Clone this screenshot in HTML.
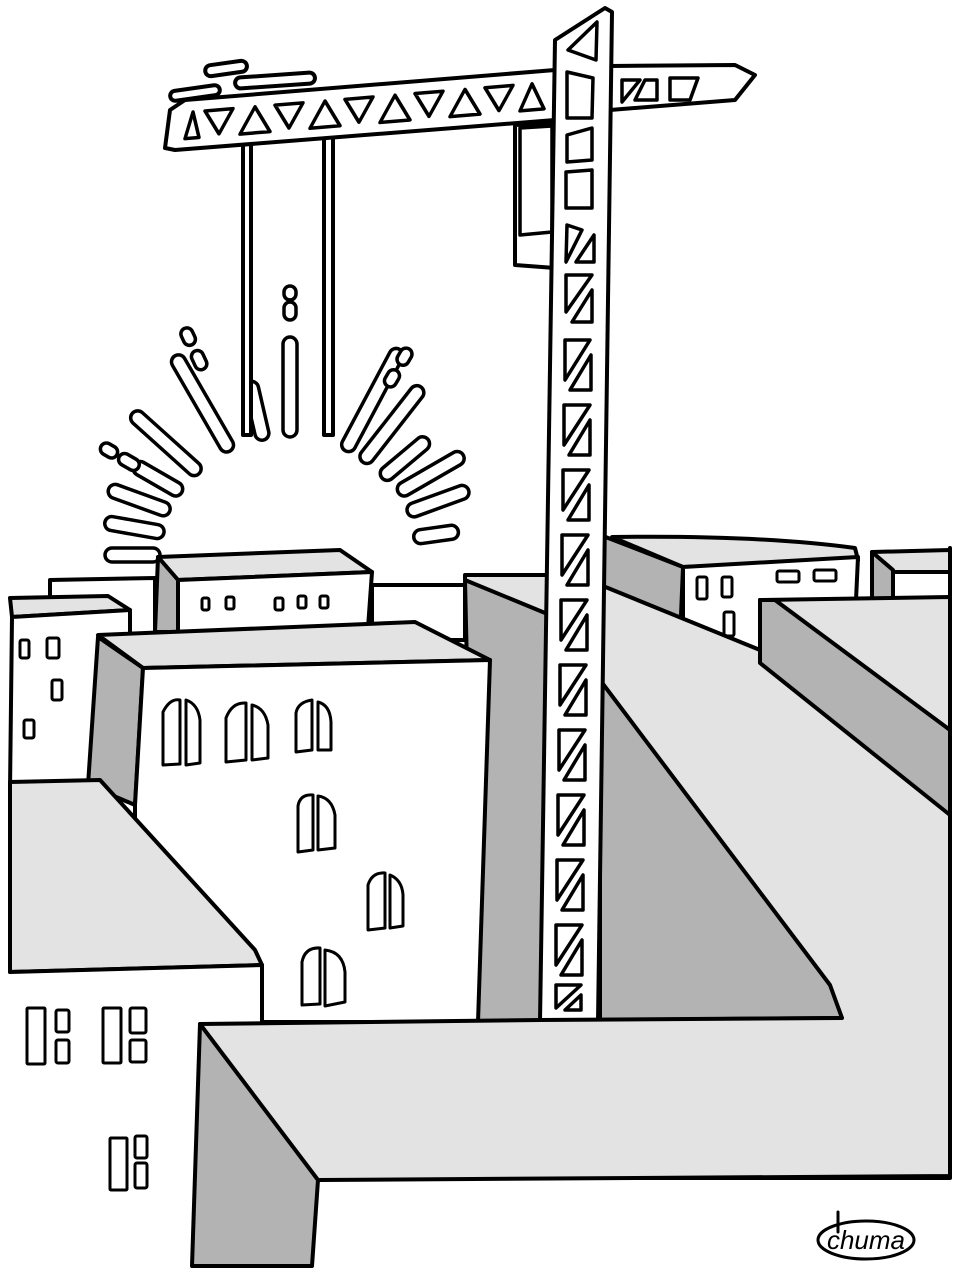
<!DOCTYPE html>
<html><head><meta charset="utf-8"><style>
html,body{margin:0;padding:0;background:#fff}
svg{display:block}
</style></head><body>
<svg width="968" height="1268" viewBox="0 0 968 1268" xmlns="http://www.w3.org/2000/svg">
<g stroke="#000" stroke-width="4" stroke-linejoin="round" stroke-linecap="round" fill="#fff">

<!-- Sun rays -->
<g fill="#fff" stroke-width="3.5">
  <g transform="translate(290,555)">
    <rect x="130" y="-7" width="55" height="14" rx="7" transform="rotate(180)"/>
    <rect x="128" y="-7" width="60" height="14" rx="7" transform="rotate(-170)"/>
    <rect x="128" y="-7" width="65" height="14" rx="7" transform="rotate(-160)"/>
    <rect x="125" y="-7" width="55" height="14" rx="7" transform="rotate(-150)"/>
    <rect x="122" y="-7" width="90" height="14" rx="7" transform="rotate(-138)"/>
    <rect x="120" y="-7" width="110" height="14" rx="7" transform="rotate(-120)"/>
    <rect x="118" y="-7" width="60" height="14" rx="7" transform="rotate(-103)"/>
    <rect x="118" y="-7" width="100" height="14" rx="7" transform="rotate(-90)"/>
    <rect x="118" y="-7" width="115" height="14" rx="7" transform="rotate(-62)"/>
    <rect x="118" y="-7" width="95" height="14" rx="7" transform="rotate(-52)"/>
    <rect x="120" y="-7" width="60" height="14" rx="7" transform="rotate(-40)"/>
    <rect x="125" y="-7" width="75" height="14" rx="7" transform="rotate(-30)"/>
    <rect x="125" y="-7" width="65" height="14" rx="7" transform="rotate(-20)"/>
    <rect x="125" y="-7" width="45" height="14" rx="7" transform="rotate(-8)"/>
    <rect x="175" y="-6" width="22" height="12" rx="6" transform="rotate(-150)"/>
    <rect x="200" y="-6" width="18" height="12" rx="6" transform="rotate(-150)"/>
    <rect x="205" y="-6" width="20" height="12" rx="6" transform="rotate(-115)"/>
    <rect x="232" y="-6" width="18" height="12" rx="6" transform="rotate(-115)"/>
    <rect x="235" y="-6" width="18" height="12" rx="6" transform="rotate(-90)"/>
    <rect x="255" y="-6" width="14" height="12" rx="6" transform="rotate(-90)"/>
    <rect x="195" y="-6" width="18" height="12" rx="6" transform="rotate(-60)"/>
    <rect x="220" y="-6" width="18" height="12" rx="6" transform="rotate(-60)"/>
  </g>
</g>

<!-- Cables -->
<rect x="243" y="140" width="8" height="295" fill="#fff"/>
<rect x="324" y="135" width="9" height="300" fill="#fff"/>

<!-- small marks top-left -->
<rect x="205" y="63" width="42" height="11" rx="5.5" transform="rotate(-8 226 68)"/>
<rect x="235" y="75" width="80" height="11" rx="5.5" transform="rotate(-4 275 80)"/>
<rect x="170" y="88" width="50" height="10" rx="5" transform="rotate(-8 195 93)"/>

<!-- Crane jib -->
<path d="M170,110 L185,100 L555,70 L555,120 L175,150 L165,148 Z" fill="#fff"/>
<path d="M610,66 L735,65 L755,75 L735,100 L610,110 Z" fill="#fff"/>
<g transform="matrix(1,-0.083,0,1,0,16)" stroke-width="3.5">
  <path d="M185,138 l8,-26 l6,26 z M205,112 h28 l-14,24 z M240,138 l15,-26 l15,26 z M275,112 h28 l-14,24 z M310,138 l15,-26 l15,26 z M345,112 h28 l-14,24 z M380,138 l15,-26 l15,26 z M415,112 h28 l-14,24 z M450,138 l15,-26 l15,26 z M485,112 h28 l-14,24 z M520,138 l12,-26 l12,26 z"/>
</g>
<path d="M622,80 h18 l-18,22 z M645,80 h12 v20 h-22 z M670,78 h28 l-8,22 h-20 z" stroke-width="3.5"/>

<!-- counterweight -->
<path d="M515,125 L555,123 L555,268 L515,265 Z" fill="#fff"/>
<path d="M520,128 L552,126 L552,232 L520,235 Z" stroke-width="3.5"/>

<!-- Buildings back -->
<path d="M50,580 L155,578 L155,640 L50,640 Z"/>
<path d="M372,585 L465,585 L465,640 L372,640 Z"/>
<!-- C -->
<path d="M158,557 L340,550 L372,572 L178,580 Z" fill="#e3e3e3"/>
<path d="M158,557 L178,580 L178,632 L155,632 Z" fill="#b3b3b3"/>
<path d="M178,580 L372,572 L368,628 L178,632 Z" fill="#fff"/>
<g stroke-width="3"><rect x="202" y="598" width="7" height="12" rx="2"/><rect x="226" y="597" width="8" height="12" rx="2"/><rect x="275" y="598" width="8" height="12" rx="2"/><rect x="298" y="596" width="8" height="12" rx="2"/><rect x="320" y="596" width="8" height="12" rx="2"/></g>
<!-- B -->
<path d="M10,598 L108,596 L130,610 L12,617 Z" fill="#e3e3e3"/>
<path d="M12,617 L130,610 L130,790 L10,790 Z" fill="#fff"/>
<g stroke-width="3"><rect x="20" y="640" width="9" height="18" rx="2"/><rect x="47" y="638" width="12" height="20" rx="2"/><rect x="52" y="680" width="10" height="20" rx="2"/><rect x="24" y="720" width="10" height="18" rx="2"/></g>

<!-- F tall dark building -->
<path d="M465,575 L550,575 L550,620 L465,580 Z" fill="#e3e3e3"/>
<path d="M465,580 L550,615 L545,1022 L475,1022 Z" fill="#b3b3b3"/>
<!-- H top right building -->
<path d="M612,537 Q760,535 855,548 L858,560 L683,567 Z" fill="#e3e3e3"/>
<path d="M603,536 L683,567 L680,640 L603,600 Z" fill="#b3b3b3"/>
<path d="M683,567 L683,640 L760,660 L760,600 L856,600 L858,557 Z" fill="#fff"/>
<g stroke-width="3"><rect x="697" y="577" width="10" height="22" rx="2"/><rect x="722" y="577" width="10" height="20" rx="2"/><rect x="724" y="612" width="10" height="24" rx="2"/><rect x="777" y="571" width="22" height="11" rx="2"/><rect x="814" y="570" width="22" height="11" rx="2"/></g>
<!-- J far right -->
<path d="M872,552 L950,550 L950,572 L893,572 Z" fill="#e3e3e3"/>
<path d="M872,552 L893,570 L893,600 L872,600 Z" fill="#b3b3b3"/>
<path d="M893,572 L950,572 L950,600 L893,600 Z" fill="#fff"/>
<!-- right light region -->
<path d="M603,586 L760,650 L760,600 L950,597 L950,1178 L600,1178 Z" fill="#e3e3e3"/>
<path d="M760,600 L775,600 L950,730 L950,815 L760,663 Z" fill="#b3b3b3"/>
<!-- G dark triangle -->
<path d="M600,680 L830,985 L842,1018 L600,1020 Z" fill="#b3b3b3"/>

<!-- D main building -->
<path d="M98,635 L415,622 L490,660 L143,668 Z" fill="#e3e3e3"/>
<path d="M98,637 L143,668 L135,805 L88,785 Z" fill="#b3b3b3"/>
<path d="M143,668 L490,660 L478,1022 L262,1022 L135,1022 L135,805 Z" fill="#fff"/>
<g stroke-width="3" fill="#fff">
  <path d="M163,765 V712 Q170,698 180,700 V764 Z M186,765 V700 Q198,704 200,720 V763 Z"/>
  <path d="M226,762 V718 Q232,702 246,703 V760 Z M252,760 V705 Q265,708 268,725 V758 Z"/>
  <path d="M296,752 V713 Q298,702 312,700 V750 Z M318,750 V702 Q330,705 331,722 V750 Z"/>
  <path d="M298,852 V806 Q300,794 313,795 V850 Z M318,850 V796 Q332,798 335,815 V848 Z"/>
  <path d="M368,930 V885 Q372,872 385,873 V928 Z M390,928 V875 Q402,880 403,895 V926 Z"/>
  <path d="M302,1005 V962 Q305,947 320,948 V1004 Z M325,1006 V950 Q343,952 345,972 V1002 Z"/>
</g>

<!-- E lower-left -->
<path d="M10,782 L100,780 L255,950 L262,965 L10,972 Z" fill="#e3e3e3"/>
<path d="M10,972 L262,965 L262,1268 L10,1268 Z" fill="#fff" stroke="none"/>
<path d="M10,972 L262,965 L262,1022" fill="none"/>
<g stroke-width="3">
  <rect x="27" y="1008" width="18" height="56" rx="1"/><rect x="56" y="1010" width="13" height="22" rx="2"/><rect x="56" y="1040" width="13" height="23" rx="2"/>
  <rect x="103" y="1008" width="18" height="55" rx="1"/><rect x="130" y="1008" width="16" height="25" rx="2"/><rect x="130" y="1040" width="16" height="22" rx="2"/>
  <rect x="110" y="1138" width="17" height="52" rx="1"/><rect x="135" y="1136" width="12" height="22" rx="2"/><rect x="135" y="1163" width="12" height="25" rx="2"/>
</g>

<!-- Crane tower -->
<path d="M555,40 L605,8 L612,12 L598,1022 L540,1022 Z" fill="#fff"/>
<g stroke-width="3.5" fill="#fff">
  <path d="M568,50 L597,22 L596,60 Z"/>
  <path d="M567,72 L593,78 L592,118 L567,118 Z"/>
  <path d="M567,135 L592,128 L592,160 L567,162 Z"/>
  <path d="M566,172 L592,170 L592,208 L566,208 Z"/>
  <path d="M567,225 L582,230 L566,262 Z M594,235 L594,262 L576,262 Z"/>
  <path d="M566,275 L592,275 L566,312 Z M592,290 L592,322 L572,322 Z"/>
  <path d="M565,340 L590,340 L565,380 Z M591,355 L591,390 L570,390 Z"/>
  <path d="M564,405 L590,405 L564,445 Z M590,420 L590,455 L569,455 Z"/>
  <path d="M563,470 L589,470 L563,510 Z M589,485 L589,520 L568,520 Z"/>
  <path d="M562,535 L588,535 L562,575 Z M588,550 L588,585 L567,585 Z"/>
  <path d="M561,600 L587,600 L561,640 Z M587,615 L587,650 L566,650 Z"/>
  <path d="M560,665 L586,665 L560,705 Z M586,680 L586,715 L565,715 Z"/>
  <path d="M559,730 L585,730 L559,770 Z M585,745 L585,780 L564,780 Z"/>
  <path d="M558,795 L584,795 L558,835 Z M584,810 L584,845 L563,845 Z"/>
  <path d="M557,860 L583,860 L557,900 Z M583,875 L583,910 L562,910 Z"/>
  <path d="M556,925 L582,925 L556,965 Z M582,940 L582,975 L561,975 Z"/>
  <path d="M556,985 L581,985 L556,1008 Z M581,995 L581,1010 L565,1010 Z"/>
</g>

<!-- Foreground block -->
<path d="M200,1024 L540,1020 L840,1018 L950,1018 L950,1176 L320,1180 Z" fill="#e3e3e3" stroke="none"/>
<path d="M200,1024 L540,1020 L842,1018" fill="none"/>
<path d="M950,548 L950,1176 L320,1180" fill="none"/>
<path d="M200,1024 L318,1180 L312,1266 L192,1266 Z" fill="#b3b3b3"/>

<!-- Signature -->
<ellipse cx="866" cy="1240" rx="48" ry="19" fill="none" stroke-width="3"/>
<line x1="838" y1="1212" x2="838" y2="1232" stroke-width="3"/>
</g>
<text x="866" y="1249" text-anchor="middle" font-family="Liberation Sans, sans-serif" font-style="italic" font-size="26" fill="#000">chuma</text>
</svg>
</body></html>
